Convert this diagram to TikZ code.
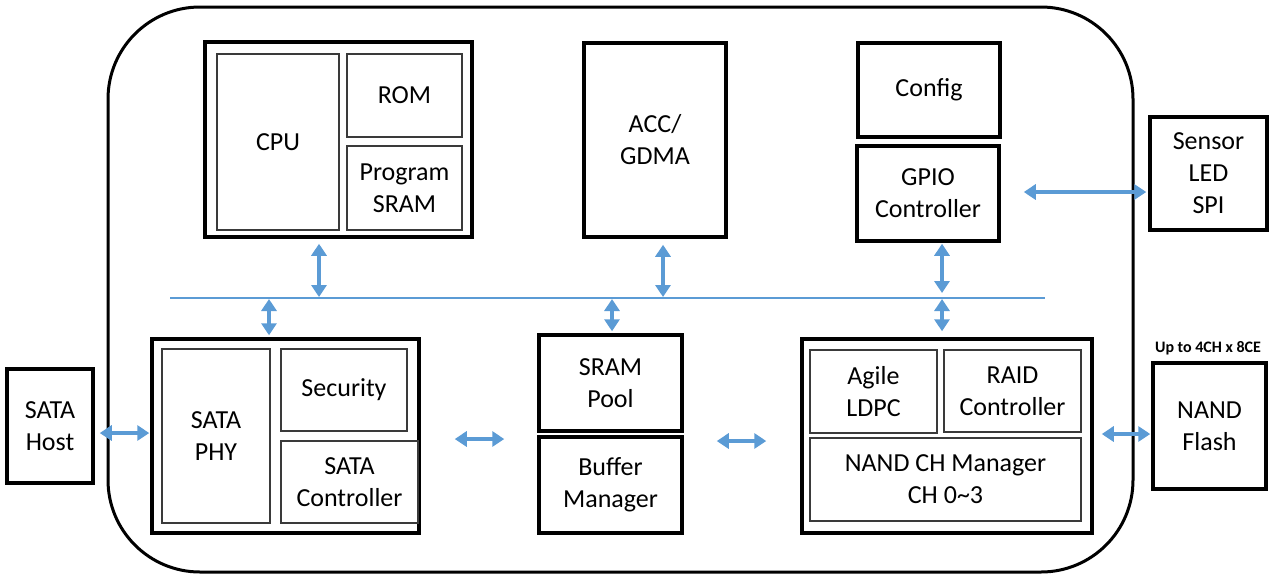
\documentclass[tikz,border=0pt]{standalone}
\usepackage{fontspec}
\setmainfont{Carlito}
\usetikzlibrary{arrows.meta}
\definecolor{busblue}{HTML}{5B9BD5}
\definecolor{innergray}{HTML}{3A3A3A}
\begin{document}
\begin{tikzpicture}[x=1pt,y=-1pt,
  every node/.style={font=\fontsize{26}{32}\selectfont, align=center, inner sep=0pt},
  wh/.style 2 args={minimum width=#1pt, minimum height=#2pt},
  outerbox/.style={draw=black, line width=3.5pt},
  innerbox/.style={draw=innergray, line width=1.6pt},
  arr/.style={busblue, line width=4.5pt, {Triangle[width=15pt,length=12pt]}-{Triangle[width=15pt,length=12pt]}},
  bus/.style={busblue, line width=2pt}]
\useasboundingbox (0,0) rectangle (1269,574);
% chip outline
\draw[line width=3pt, rounded corners=92pt] (108,7) rectangle (1133,572);
% CPU block
\node[outerbox, wh={267}{195}] (cpu) at (338.5,139.5) {};
\node[innerbox, wh={122}{176}] (core) at (278,142) {CPU};
\node[innerbox, wh={115}{83}] (rom) at (404.5,95.5) {ROM};
\node[innerbox, wh={115}{84}] (psram) at (404.5,188) {Program\\SRAM};
% ACC
\node[outerbox, wh={142}{194}] (acc) at (655,140) {ACC/\\GDMA};
% Config / GPIO
\node[outerbox, wh={142}{94}] (config) at (929,90) {Config};
\node[outerbox, wh={142}{95}] (gpio) at (928,193.5) {GPIO\\Controller};
\node[outerbox, wh={117}{113}] (sensor) at (1208.5,173.5) {Sensor\\LED\\SPI};
% SATA block
\node[outerbox, wh={267}{194}] (sata) at (285.5,436) {};
\node[innerbox, wh={108}{174}] (phy) at (216,436) {SATA\\PHY};
\node[innerbox, wh={126}{82}] (security) at (344,390) {Security};
\node[innerbox, wh={137}{82}] (satactrl) at (349.5,482) {SATA\\Controller};
\node[outerbox, wh={86}{114}] (host) at (50,426) {SATA\\Host};
% SRAM pool / buffer manager
\node[outerbox, wh={143}{96}] (srampool) at (610.5,383) {SRAM\\Pool};
\node[outerbox, wh={143}{96}] (bufmgr) at (610.5,485) {Buffer\\Manager};
% NAND block
\node[outerbox, wh={290}{194}] (nand) at (947,436) {};
\node[innerbox, wh={127}{83}] (ldpc) at (873.5,391.5) {Agile\\LDPC};
\node[innerbox, wh={137}{82}] (raid) at (1012.5,391) {RAID\\Controller};
\node[innerbox, wh={271}{83}] (chmgr) at (945.5,479.5) {NAND CH Manager\\CH 0\textasciitilde 3};
\node[outerbox, wh={113}{126}] (flash) at (1209.5,426) {NAND\\Flash};
\node[font=\bfseries\fontsize{16}{19}\selectfont] (upto) at (1208,348) {Up to 4CH x 8CE};
% bus
\coordinate (busL) at (170,298);
\coordinate (busR) at (1045,298);
\draw[bus] (busL) -- (busR);
% bus taps
\coordinate (tCPU) at (319,297);
\coordinate (tACC) at (663,297);
\coordinate (tGPIO) at (942,293);
\coordinate (tSATA) at (269,299);
\coordinate (tSRAM) at (612,299);
\coordinate (tNAND) at (942,299);
\draw[arr, shorten <=5pt] (tCPU |- cpu.south) -- (tCPU);
\draw[arr, shorten <=6pt] (tACC |- acc.south) -- (tACC);
\draw[arr, shorten <=1pt] (tGPIO |- gpio.south) -- (tGPIO);
\draw[arr, shorten >=2pt] (tSATA) -- (tSATA |- sata.north);
\draw[arr, shorten >=2pt] (tSRAM) -- (tSRAM |- srampool.north);
\draw[arr, shorten >=6pt] (tNAND) -- (tNAND |- nand.north);
% horizontal links
\draw[arr, shorten <=5pt, shorten >=1pt] ([yshift=-7pt]host.east) -- ([yshift=-7pt]host.east -| sata.west);
\draw[arr, shorten <=34pt, shorten >=33pt] ([yshift=-3pt]sata.east) -- ([yshift=-3pt]sata.east -| srampool.west);
\draw[arr, shorten <=33pt, shorten >=34pt] ([yshift=-5pt]nand.west -| bufmgr.east) -- ([yshift=-5pt]nand.west);
\draw[arr, shorten <=8pt, shorten >=1pt] ([yshift=2pt]nand.east) -- ([yshift=2pt]nand.east -| flash.west);
\draw[arr, shorten <=23pt, shorten >=2pt] ([yshift=1.5pt]gpio.east) -- ([yshift=1.5pt]gpio.east -| sensor.west);
\end{tikzpicture}
\end{document}
